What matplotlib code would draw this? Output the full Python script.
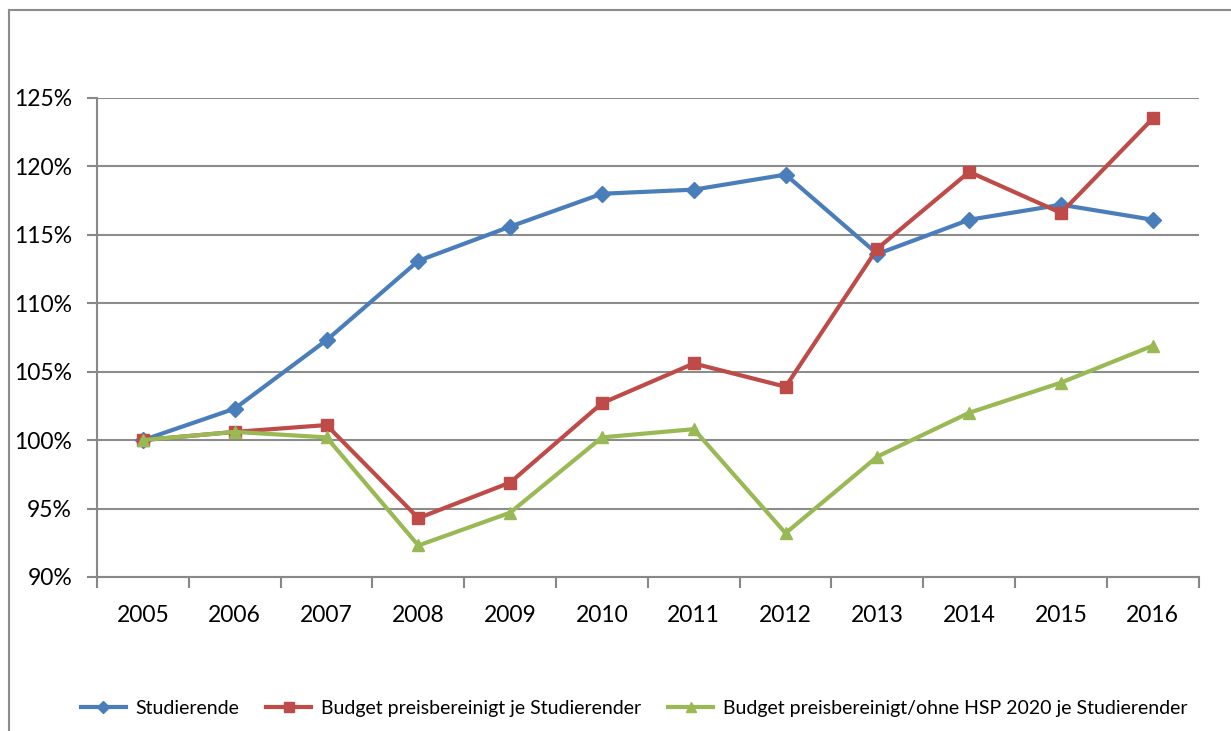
import matplotlib.pyplot as plt
from matplotlib.lines import Line2D
from matplotlib.ticker import FuncFormatter

years = ['2005', '2006', '2007', '2008', '2009', '2010', '2011', '2012', '2013', '2014', '2015', '2016']

studierende = [100.0, 102.3, 107.3, 113.1, 115.6, 118.0, 118.3, 119.4, 113.6, 116.1, 117.2, 116.1]
budget = [100.0, 100.6, 101.1, 94.3, 96.9, 102.7, 105.6, 103.9, 114.0, 119.6, 116.6, 123.5]
budget_ohne_hsp = [100.0, 100.6, 100.2, 92.3, 94.7, 100.2, 100.8, 93.2, 98.8, 102.0, 104.2, 106.9]

labels = ['Studierende',
          'Budget preisbereinigt je Studierender',
          'Budget preisbereinigt/ohne HSP 2020 je Studierender']

plt.rcParams['font.family'] = ['Lato', 'DejaVu Sans']

fig = plt.figure(figsize=(12.31, 7.31), dpi=100)
ax = fig.add_axes([0.0788, 0.2107, 0.895, 0.6553])

x = list(range(len(years)))
ax.plot(x, studierende, color='#4a7ebb', lw=3, marker='D', ms=8, label=labels[0])
ax.plot(x, budget, color='#be4b48', lw=3, marker='s', ms=9, label=labels[1])
ax.plot(x, budget_ohne_hsp, color='#98b954', lw=3, marker='^', ms=9, label=labels[2])

ax.set_xlim(-0.5, len(years) - 0.5)
ax.set_ylim(90, 125)
ax.set_yticks(range(90, 126, 5))
ax.yaxis.set_major_formatter(FuncFormatter(lambda v, p: f'{v:.0f}%'))
ax.set_xticks(x)
ax.set_xticklabels(years)
ax.set_xticks([i - 0.5 for i in range(len(years) + 1)], minor=True)
ax.tick_params(axis='x', which='major', length=0, pad=20, labelsize=16.5)
ax.tick_params(axis='x', which='minor', length=8, color='#888888', width=1.5)
ax.tick_params(axis='y', length=7, color='#888888', width=1.5, labelsize=16.5, pad=11)
ax.grid(axis='y', color='#8c8c8c', lw=1.5)
ax.set_axisbelow(True)
for s in ['top', 'right']:
    ax.spines[s].set_visible(False)
for s in ['left', 'bottom']:
    ax.spines[s].set_color('#888888')
    ax.spines[s].set_linewidth(1.5)

fig.legend(loc='center', bbox_to_anchor=(0.515, 0.031), ncol=3, frameon=False,
           fontsize=14, handlelength=2.3, columnspacing=1.4, handletextpad=0.5,
           markerscale=0.8)

# outer chart frame
fig.add_artist(Line2D([9 / 1231, 9 / 1231], [0, 1 - 10 / 731], color='#8c8c8c', lw=1.5))
fig.add_artist(Line2D([9 / 1231, 1], [1 - 10 / 731, 1 - 10 / 731], color='#8c8c8c', lw=1.5))

fig.savefig('out.png', dpi=100)
